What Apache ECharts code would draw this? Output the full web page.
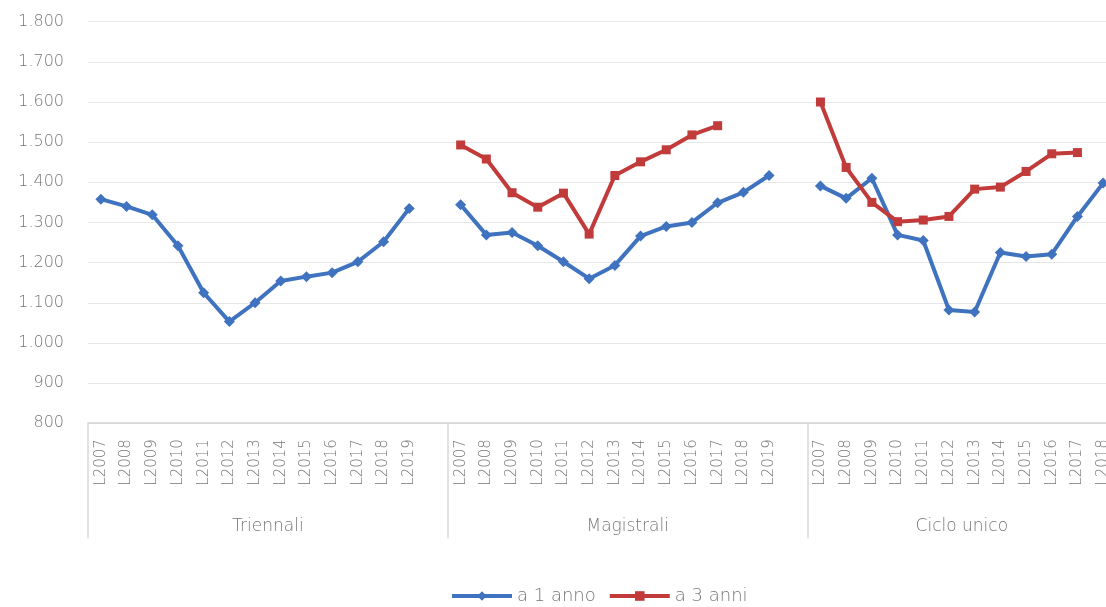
<!DOCTYPE html>
<html>
<head>
<meta charset="utf-8">
<script src="https://cdn.jsdelivr.net/npm/echarts@6/dist/echarts.min.js"></script>
<style>
  html, body { margin: 0; padding: 0; background: #ffffff; overflow: hidden; }
  #chart { width: 1106px; height: 607px; }
</style>
</head>
<body>
<div id="chart"></div>
<script>
// Year labels shared by every degree type
const years = ['L2007', 'L2008', 'L2009', 'L2010', 'L2011', 'L2012', 'L2013',
               'L2014', 'L2015', 'L2016', 'L2017', 'L2018', 'L2019'];
const groupNames = ['Triennali', 'Magistrali', 'Ciclo unico'];
const cicloYears = years.slice(0, 12);

// Values per degree type: "a 1 anno" and "a 3 anni"
const triennaliAnno1 = [1358, 1340, 1319, 1242, 1125, 1053, 1100, 1154, 1165, 1175, 1202, 1252, 1335];
const triennaliAnni3 = [null, null, null, null, null, null, null, null, null, null, null, null, null];
const magistraliAnno1 = [1344, 1269, 1275, 1242, 1202, 1160, 1193, 1266, 1290, 1300, 1349, 1375, 1417];
const magistraliAnni3 = [1493, 1458, 1374, 1338, 1373, 1271, 1417, 1451, 1481, 1518, 1541, null, null];
const cicloAnno1 = [1391, 1360, 1410, 1269, 1255, 1082, 1077, 1225, 1215, 1221, 1315, 1398];
const cicloAnni3 = [1600, 1437, 1350, 1302, 1306, 1315, 1383, 1388, 1427, 1471, 1474, null];

const yTicks = { min: 800, max: 1800, step: 100 };

// Flat category list: a blank slot closes each group, as in the source table
const categories = [].concat(years, [''], years, [''], cicloYears);
const anno1 = [].concat(triennaliAnno1, [null], magistraliAnno1, [null], cicloAnno1);
const anni3 = [].concat(triennaliAnni3, [null], magistraliAnni3, [null], cicloAnni3);

// Group spans on the category axis
const spans = [
  { name: groupNames[0], start: 0, len: years.length + 1 },
  { name: groupNames[1], start: years.length + 1, len: years.length + 1 },
  { name: groupNames[2], start: 2 * (years.length + 1), len: cicloYears.length }
];
const groupLabelAt = {};
const groupBoundary = {};
spans.forEach(s => {
  groupLabelAt[s.start + s.len / 2 - 1] = s.name;
  groupBoundary[s.start] = true;
});

const textColor = '#767676';
const fontFamily = 'DejaVu Sans, Noto Sans, sans-serif';
const catWidth = 25.7;

const chart = echarts.init(document.getElementById('chart'), null, { renderer: 'canvas' });
chart.setOption({
  animation: false,
  backgroundColor: '#ffffff',
  textStyle: { fontFamily: fontFamily },
  // the plot runs a little past the right edge of the canvas
  grid: {
    left: 88, top: 21.7, height: 401.5, width: catWidth * categories.length,
    containLabel: false, outerBoundsMode: 'none'
  },
  legend: {
    left: 450,
    top: 587,
    padding: 0,
    itemWidth: 60,
    itemHeight: 12,
    itemGap: 12,
    lineStyle: { width: 4 },
    textStyle: { color: textColor, fontSize: 18, fontWeight: 200, fontFamily: fontFamily },
    data: ['a 1 anno', 'a 3 anni']
  },
  xAxis: [
    {
      type: 'category',
      data: categories,
      boundaryGap: true,
      axisLine: { show: true, lineStyle: { color: '#d4d4d4', width: 1.5 } },
      axisTick: { show: false },
      axisLabel: {
        interval: 0,
        rotate: 90,
        margin: 16,
        color: textColor,
        fontSize: 15,
        fontWeight: 200,
        fontFamily: fontFamily
      },
      splitLine: { show: false }
    },
    {
      type: 'category',
      data: categories,
      position: 'bottom',
      boundaryGap: true,
      axisLine: { show: false },
      axisTick: {
        show: true,
        inside: false,
        length: 115,
        interval: (index) => !!groupBoundary[index],
        lineStyle: { color: '#d9d9d9', width: 1.5 }
      },
      axisLabel: {
        interval: 0,
        margin: 95,
        color: textColor,
        fontSize: 17,
        fontWeight: 200,
        fontFamily: fontFamily,
        padding: [0, 0, 0, catWidth],
        formatter: (value, index) => groupLabelAt[index] || ''
      },
      splitLine: { show: false }
    }
  ],
  yAxis: {
    type: 'value',
    min: yTicks.min,
    max: yTicks.max,
    interval: yTicks.step,
    axisLine: { show: false },
    axisTick: { show: false },
    splitLine: { lineStyle: { color: '#e6e6e6', width: 1 } },
    axisLabel: {
      margin: 24,
      color: textColor,
      fontSize: 16,
      fontWeight: 200,
      fontFamily: fontFamily,
      formatter: v => String(v).replace(/\B(?=(\d{3})+(?!\d))/g, '.')
    }
  },
  series: [
    {
      name: 'a 1 anno',
      type: 'line',
      data: anno1,
      xAxisIndex: 0,
      symbol: 'diamond',
      symbolSize: 11,
      showAllSymbol: true,
      lineStyle: { color: '#3f72bf', width: 4 },
      itemStyle: { color: '#3f72bf' },
      connectNulls: false
    },
    {
      name: 'a 3 anni',
      type: 'line',
      data: anni3,
      xAxisIndex: 0,
      symbol: 'rect',
      symbolSize: 9,
      showAllSymbol: true,
      lineStyle: { color: '#c23b3b', width: 4 },
      itemStyle: { color: '#c23b3b' },
      connectNulls: false
    }
  ]
});
</script>
</body>
</html>
